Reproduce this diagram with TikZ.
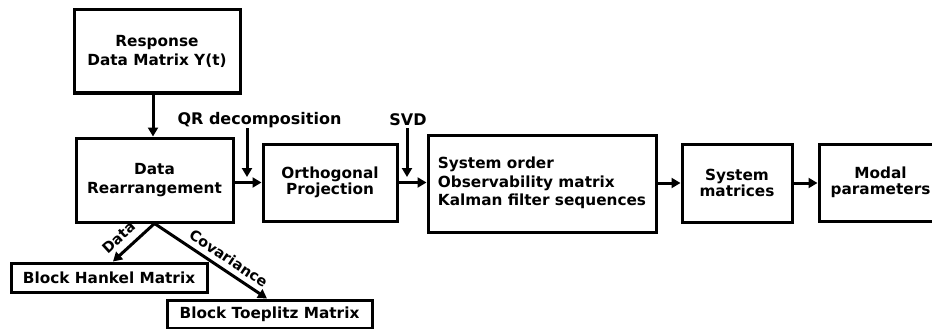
\documentclass[tikz,border=0pt]{standalone}
\usepackage{fontspec}
\setmainfont{DejaVu Sans}
\usetikzlibrary{arrows.meta}
\tikzset{
  box/.style={draw, line width=3pt, fill=white, align=center, inner sep=0pt,
    font=\bfseries\fontsize{15.3}{18.5}\selectfont},
  arr/.style={line width=3pt, -{Triangle[length=9pt,width=10pt]}},
  lbl/.style={font=\bfseries\fontsize{16}{19}\selectfont, inner sep=0pt},
  slbl/.style={font=\bfseries\fontsize{14.5}{17}\selectfont, inner sep=1pt}
}
\begin{document}
\begin{tikzpicture}[x=1pt,y=-1pt]
\path[use as bounding box, clip] (0,0) rectangle (932,329);

% process blocks
\node[box, minimum width=166pt, minimum height=83pt] (resp) at (157,51.5) {Response\\Data Matrix Y(t)};
\node[box, minimum width=157pt, minimum height=84pt] (dr) at (154.5,180) {Data\\Rearrangement};
\node[box, minimum width=134pt, minimum height=77pt] (op) at (330,182.5) {\raisebox{-3pt}{Orthogonal}\\Projection};
\node[box, minimum width=228pt, minimum height=97pt] (so) at (542,183.5)
  {\begin{tabular}{@{}l@{}}System order\\Observability matrix\\Kalman filter sequences\end{tabular}};
\node[box, minimum width=110pt, minimum height=78pt] (sm) at (737,183) {\raisebox{-3pt}{System}\\matrices};
\node[box, minimum width=123pt, minimum height=77pt] (mp) at (880.5,182.5) {\raisebox{-3pt}{Modal}\\parameters};

% output matrices
\node[box, minimum width=196pt, minimum height=29pt] (bh) at (109,277.5) {Block Hankel Matrix};
\node[box, minimum width=205pt, minimum height=28pt] (bt) at (269.5,314) {Block Toeplitz Matrix};

% operation labels
\node[lbl] (qr) at (259.5,120) {QR decomposition};
\node[lbl] (svd) at (408,120) {SVD};
\coordinate (qrtop) at (247,128);
\coordinate (qrtip) at (247,177);
\coordinate (svdtop) at (407,128);
\coordinate (svdtip) at (407,177);

% main flow
\draw[arr] (resp.south -| 153,0) -- (dr.north -| 153,0);
\draw[arr] (op.west -| dr.east) -- (op.west);
\draw[arr] (op.east) -- (so.west |- op.east);
\draw[arr] (so.east |- sm.west) -- (sm.west);
\draw[arr] (sm.east) -- (mp.west |- sm.east);
\draw[arr] (qrtop) -- (qrtip);
\draw[arr] (svdtop) -- (svdtip);

% branches to the matrix forms
\draw[arr] (dr.south) -- node[slbl, sloped, pos=0.64, above=6pt] {Data} ([xshift=4pt]bh.north);
\draw[arr] (dr.south) -- node[slbl, sloped, pos=0.6, above=4pt] {Covariance} ([xshift=-2.5pt]bt.north);
\end{tikzpicture}
\end{document}
